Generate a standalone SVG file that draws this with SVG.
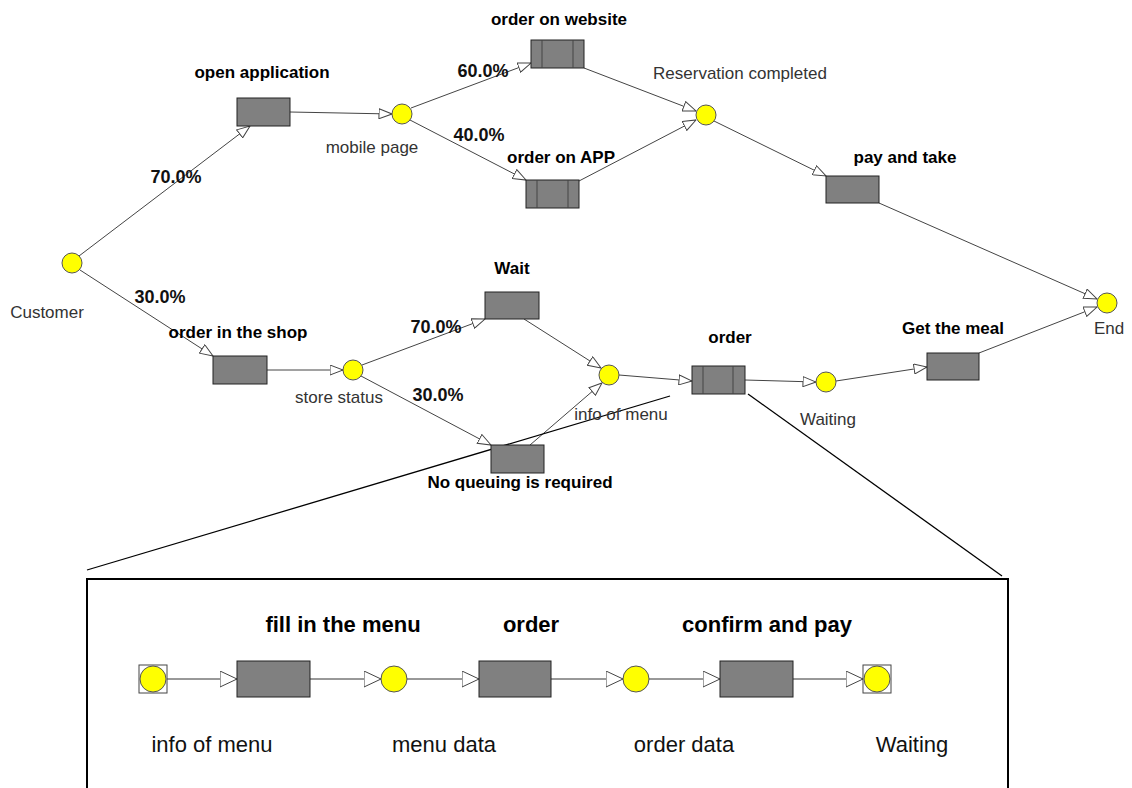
<svg xmlns="http://www.w3.org/2000/svg" width="1132" height="788" viewBox="0 0 1132 788">
<style>
.box{fill:#808080;stroke:#222;stroke-width:1}
.pl{fill:#ffff00;stroke:#555;stroke-width:1}
.sq{fill:#fff;stroke:#444;stroke-width:1}
.c{stroke:#444;stroke-width:1;fill:none}
.ci{stroke:#333;stroke-width:1;fill:none}
.zl{stroke:#000;stroke-width:1.3;fill:none}
.b{font-family:"Liberation Sans",Arial,sans-serif;font-weight:bold;font-size:17px;fill:#000;text-anchor:middle}
.p{font-family:"Liberation Sans",Arial,sans-serif;font-weight:bold;font-size:18px;fill:#111;text-anchor:middle}
.n{font-family:"Liberation Sans",Arial,sans-serif;font-size:17px;fill:#333;text-anchor:middle}
.bi{font-family:"Liberation Sans",Arial,sans-serif;font-weight:bold;font-size:22px;fill:#000;text-anchor:middle}
.ni{font-family:"Liberation Sans",Arial,sans-serif;font-size:22px;fill:#111;text-anchor:middle}
</style>
<defs>
<marker id="a" viewBox="0 0 14 11" markerWidth="14" markerHeight="11" refX="13.5" refY="5.5" orient="auto" markerUnits="userSpaceOnUse">
<path d="M0.5,0.5 L13.5,5.5 L0.5,10.5 Z" fill="#fff" stroke="#444" stroke-width="1"/>
</marker>
<marker id="ai" viewBox="0 0 18 17" markerWidth="18" markerHeight="17" refX="17.5" refY="8.5" orient="auto" markerUnits="userSpaceOnUse">
<path d="M0.5,0.5 L17.5,8.5 L0.5,16.5 Z" fill="#fff" stroke="#444" stroke-width="1"/>
</marker>
</defs>
<rect width="1132" height="788" fill="#fff"/>

<g id="connectors">
<line class="c" x1="79" y1="256" x2="250" y2="126" marker-end="url(#a)"/>
<line class="c" x1="290" y1="112" x2="392" y2="114" marker-end="url(#a)"/>
<line class="c" x1="411" y1="108" x2="531" y2="63" marker-end="url(#a)"/>
<line class="c" x1="410" y1="120" x2="526" y2="180" marker-end="url(#a)"/>
<line class="c" x1="584" y1="68" x2="696" y2="111" marker-end="url(#a)"/>
<line class="c" x1="579" y1="181" x2="696" y2="120" marker-end="url(#a)"/>
<line class="c" x1="714" y1="121" x2="826" y2="176" marker-end="url(#a)"/>
<line class="c" x1="879" y1="203" x2="1097" y2="299" marker-end="url(#a)"/>
<line class="c" x1="979" y1="353" x2="1097" y2="307" marker-end="url(#a)"/>
<line class="c" x1="80" y1="270" x2="213" y2="356" marker-end="url(#a)"/>
<line class="c" x1="267" y1="370" x2="343" y2="370" marker-end="url(#a)"/>
<line class="c" x1="362" y1="365" x2="485" y2="319" marker-end="url(#a)"/>
<line class="c" x1="361" y1="376" x2="491" y2="445" marker-end="url(#a)"/>
<line class="c" x1="524" y1="319" x2="601" y2="368" marker-end="url(#a)"/>
<line class="c" x1="530" y1="445" x2="602" y2="383" marker-end="url(#a)"/>
<line class="c" x1="619" y1="375" x2="692" y2="381" marker-end="url(#a)"/>
<line class="c" x1="745" y1="380" x2="816" y2="382" marker-end="url(#a)"/>
<line class="c" x1="836" y1="381" x2="927" y2="367" marker-end="url(#a)"/>
<line class="zl" x1="87" y1="570" x2="670" y2="396"/>
<line class="zl" x1="748" y1="394" x2="1002" y2="576"/>
<line class="ci" x1="167" y1="679" x2="237" y2="679" marker-end="url(#ai)"/>
<line class="ci" x1="310" y1="679" x2="381" y2="679" marker-end="url(#ai)"/>
<line class="ci" x1="407" y1="679" x2="479" y2="679" marker-end="url(#ai)"/>
<line class="ci" x1="551" y1="679" x2="623" y2="679" marker-end="url(#ai)"/>
<line class="ci" x1="649" y1="679" x2="720" y2="679" marker-end="url(#ai)"/>
<line class="ci" x1="793" y1="679" x2="863" y2="679" marker-end="url(#ai)"/>
<text class="p" x="176" y="183">70.0%</text>
<text class="p" x="483" y="77">60.0%</text>
<text class="p" x="479" y="141">40.0%</text>
<text class="p" x="160" y="303">30.0%</text>
<text class="p" x="436" y="333">70.0%</text>
<text class="p" x="438" y="401">30.0%</text>
</g>

<g id="customer"><circle class="pl" cx="72" cy="263" r="10"/><text class="n" x="47" y="318">Customer</text></g>
<g id="open-application"><rect class="box" x="237" y="98" width="53" height="28"/><text class="b" x="262" y="78">open application</text></g>
<g id="mobile-page"><circle class="pl" cx="402" cy="114" r="10"/><text class="n" x="372" y="153">mobile page</text></g>
<g id="order-on-website"><rect class="box" x="531" y="40" width="53" height="28"/><line class="c" x1="542" y1="40" x2="542" y2="68"/><line class="c" x1="573" y1="40" x2="573" y2="68"/><text class="b" x="559" y="25">order on website</text></g>
<g id="order-on-app"><rect class="box" x="526" y="180" width="53" height="28"/><line class="c" x1="537" y1="180" x2="537" y2="208"/><line class="c" x1="568" y1="180" x2="568" y2="208"/><text class="b" x="561" y="163">order on APP</text></g>
<g id="reservation-completed"><circle class="pl" cx="706" cy="115" r="10"/><text class="n" x="740" y="79">Reservation completed</text></g>
<g id="pay-and-take"><rect class="box" x="826" y="176" width="53" height="27"/><text class="b" x="905" y="163">pay and take</text></g>
<g id="end"><circle class="pl" cx="1107" cy="303" r="10"/><text class="n" x="1109" y="334">End</text></g>
<g id="order-in-the-shop"><rect class="box" x="213" y="356" width="54" height="28"/><text class="b" x="238" y="338">order in the shop</text></g>
<g id="store-status"><circle class="pl" cx="353" cy="370" r="10"/><text class="n" x="339" y="403">store status</text></g>
<g id="wait"><rect class="box" x="485" y="292" width="54" height="27"/><text class="b" x="512" y="274">Wait</text></g>
<g id="no-queuing"><rect class="box" x="491" y="445" width="53" height="28"/><text class="b" x="520" y="488">No queuing is required</text></g>
<g id="info-of-menu"><circle class="pl" cx="609" cy="375" r="10"/><text class="n" x="621" y="420">info of menu</text></g>
<g id="order"><rect class="box" x="692" y="366" width="53" height="28"/><line class="c" x1="703" y1="366" x2="703" y2="394"/><line class="c" x1="733" y1="366" x2="733" y2="394"/><text class="b" x="730" y="343">order</text></g>
<g id="waiting"><circle class="pl" cx="826" cy="382" r="10"/><text class="n" x="828" y="425">Waiting</text></g>
<g id="get-the-meal"><rect class="box" x="927" y="353" width="52" height="27"/><text class="b" x="953" y="334">Get the meal</text></g>

<g id="detail-frame"><rect x="87" y="579" width="921" height="220" fill="none" stroke="#000" stroke-width="2"/></g>
<g id="d-info-of-menu"><rect class="sq" x="139" y="665" width="28" height="28"/><circle class="pl" cx="153" cy="679" r="13"/><text class="ni" x="212" y="752">info of menu</text></g>
<g id="d-fill-in-the-menu"><rect class="box" x="237" y="661" width="73" height="36"/><text class="bi" x="343" y="632">fill in the menu</text></g>
<g id="d-menu-data"><circle class="pl" cx="394" cy="679" r="13"/><text class="ni" x="444" y="752">menu data</text></g>
<g id="d-order"><rect class="box" x="479" y="661" width="72" height="36"/><text class="bi" x="531" y="632">order</text></g>
<g id="d-order-data"><circle class="pl" cx="636" cy="679" r="13"/><text class="ni" x="684" y="752">order data</text></g>
<g id="d-confirm-and-pay"><rect class="box" x="720" y="661" width="73" height="36"/><text class="bi" x="767" y="632">confirm and pay</text></g>
<g id="d-waiting"><rect class="sq" x="863" y="665" width="28" height="28"/><circle class="pl" cx="877" cy="679" r="13"/><text class="ni" x="912" y="752">Waiting</text></g>
</svg>
